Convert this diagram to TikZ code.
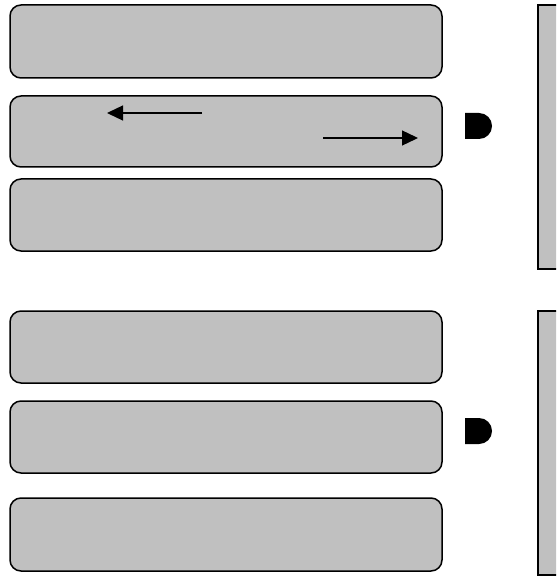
\documentclass[tikz,border=0pt]{standalone}
\usetikzlibrary{arrows.meta}
\definecolor{boxgray}{HTML}{C0C0C0}
\tikzset{
  lane/.style={draw=black, line width=1.5pt, fill=boxgray, rounded corners=11pt},
  panel/.style={draw=black, line width=1.5pt, fill=boxgray},
  flow/.style={line width=1.3pt, -{Triangle[length=16pt,width=15pt]}},
}
\begin{document}
\begin{tikzpicture}[x=1pt,y=-1pt]
\useasboundingbox (0,0) rectangle (556,577);
\clip (0,0) rectangle (556,577);
% left lanes
\draw[lane] (10,5) rectangle (442,78);
\draw[lane] (10,96) rectangle (442,167);
\draw[lane] (10,179) rectangle (442,251);
\draw[lane] (10,311) rectangle (442,383);
\draw[lane] (10,401) rectangle (442,473);
\draw[lane] (10,498) rectangle (442,571);
% right panels
\draw[panel] (538,5) rectangle (580,269);
\draw[panel] (538,311) rectangle (580,575);
% D shapes
\fill (465,113) -- (479,113) arc[start angle=90, end angle=-90, x radius=13, y radius=-13] -- (465,139) -- cycle;
\fill (465,418) -- (479,418) arc[start angle=90, end angle=-90, x radius=13, y radius=-13] -- (465,444) -- cycle;
% arrows
\coordinate (la) at (202,113);
\coordinate (lb) at (107,113);
\coordinate (ra) at (323,138);
\coordinate (rb) at (418,138);
\draw[flow] (la) -- (lb);
\draw[flow] (ra) -- (rb);
\end{tikzpicture}
\end{document}
